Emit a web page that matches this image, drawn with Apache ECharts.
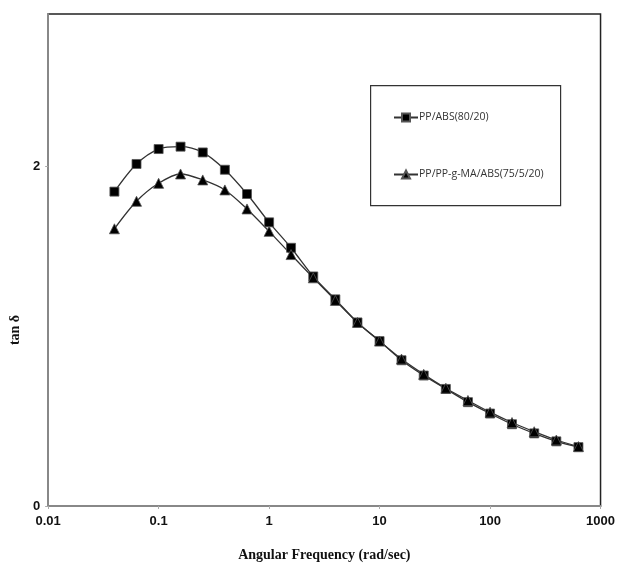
<!DOCTYPE html>
<html>
<head>
<meta charset="utf-8">
<script src="https://cdn.jsdelivr.net/npm/echarts@6/dist/echarts.min.js"></script>
<style>
html,body{margin:0;padding:0;background:#fff;}
#chart{width:618px;height:567px;}
</style>
</head>
<body>
<div id="chart"></div>
<script>
const frequencies = [0.0398, 0.0631, 0.1, 0.158, 0.251, 0.398, 0.631, 1, 1.58, 2.51, 3.98, 6.31, 10, 15.8, 25.1, 39.8, 63.1, 100, 158, 251, 398, 631];
const ppAbs = [1.853, 2.016, 2.104, 2.118, 2.084, 1.982, 1.839, 1.672, 1.522, 1.353, 1.218, 1.082, 0.972, 0.859, 0.769, 0.690, 0.612, 0.545, 0.482, 0.428, 0.381, 0.347];
const ppMaAbs = [1.634, 1.796, 1.902, 1.957, 1.922, 1.863, 1.751, 1.619, 1.482, 1.345, 1.212, 1.082, 0.972, 0.866, 0.776, 0.694, 0.622, 0.553, 0.492, 0.438, 0.389, 0.350];
const seriesNames = ['PP/ABS(80/20)', 'PP/PP-g-MA/ABS(75/5/20)'];
const yTickLabels = ['0', '2'];

const chart = echarts.init(document.getElementById('chart'));
const pairs = (ys) => frequencies.map((f, i) => [f, ys[i]]);
chart.setOption({
  animation: false,
  backgroundColor: '#fff',
  grid: { left: 43, right: 10, top: 14, bottom: 61, show: true, borderColor: '#222', borderWidth: 1.5 },
  graphic: [{
    type: 'rect', left: 370, top: 85, z: 0,
    shape: { width: 190, height: 120 },
    style: { fill: '#fff', stroke: '#333', lineWidth: 1.2 }
  }],
  legend: {
    orient: 'vertical', left: 388, top: 107, itemGap: 46,
    itemWidth: 24, itemHeight: 10, z: 5,
    textStyle: { fontFamily: 'Open Sans', fontSize: 10.5, color: '#333', padding: [0, 0, 0, -4] },
    data: seriesNames
  },
  xAxis: {
    type: 'log', logBase: 10, min: 0.01, max: 1000,
    name: 'Angular Frequency (rad/sec)', nameLocation: 'middle', nameGap: 42,
    nameTextStyle: { fontFamily: 'Liberation Serif', fontWeight: 'bold', fontSize: 14, color: '#111' },
    axisLine: { lineStyle: { color: '#888', width: 2 } },
    axisTick: { show: true, length: 3, lineStyle: { color: '#aaa' } },
    splitLine: { show: false },
    axisLabel: {
      fontFamily: 'Liberation Sans', fontWeight: 'bold', fontSize: 13, color: '#111', margin: 9,
      formatter: (v) => String(+v.toPrecision(3))
    }
  },
  yAxis: {
    type: 'value', min: 0, max: 2.9, interval: 2,
    name: 'tan δ', nameLocation: 'middle', nameGap: 23,
    nameTextStyle: { fontFamily: 'Liberation Serif', fontWeight: 'bold', fontSize: 14, color: '#111', padding: [0, 140, 0, 0] },
    axisLine: { show: true, lineStyle: { color: '#888', width: 2 } },
    axisTick: { show: true, length: 3, lineStyle: { color: '#aaa' } },
    splitLine: { show: false },
    axisLabel: {
      showMaxLabel: false, fontFamily: 'Liberation Sans', fontWeight: 'bold', fontSize: 13, color: '#111', margin: 8,
      formatter: (v) => yTickLabels.includes(String(v)) ? String(v) : ''
    }
  },
  series: [
    {
      name: seriesNames[0], type: 'line', smooth: 0.3, data: pairs(ppAbs),
      symbol: 'rect', symbolSize: 9, z: 3,
      lineStyle: { color: '#333', width: 1.3 },
      itemStyle: { color: '#000', borderColor: '#555', borderWidth: 0.8 }
    },
    {
      name: seriesNames[1], type: 'line', smooth: 0.3, data: pairs(ppMaAbs),
      symbol: 'triangle', symbolSize: 10, z: 3,
      lineStyle: { color: '#333', width: 1.3 },
      itemStyle: { color: '#000', borderColor: '#555', borderWidth: 0.8 }
    }
  ]
});
</script>
</body>
</html>
